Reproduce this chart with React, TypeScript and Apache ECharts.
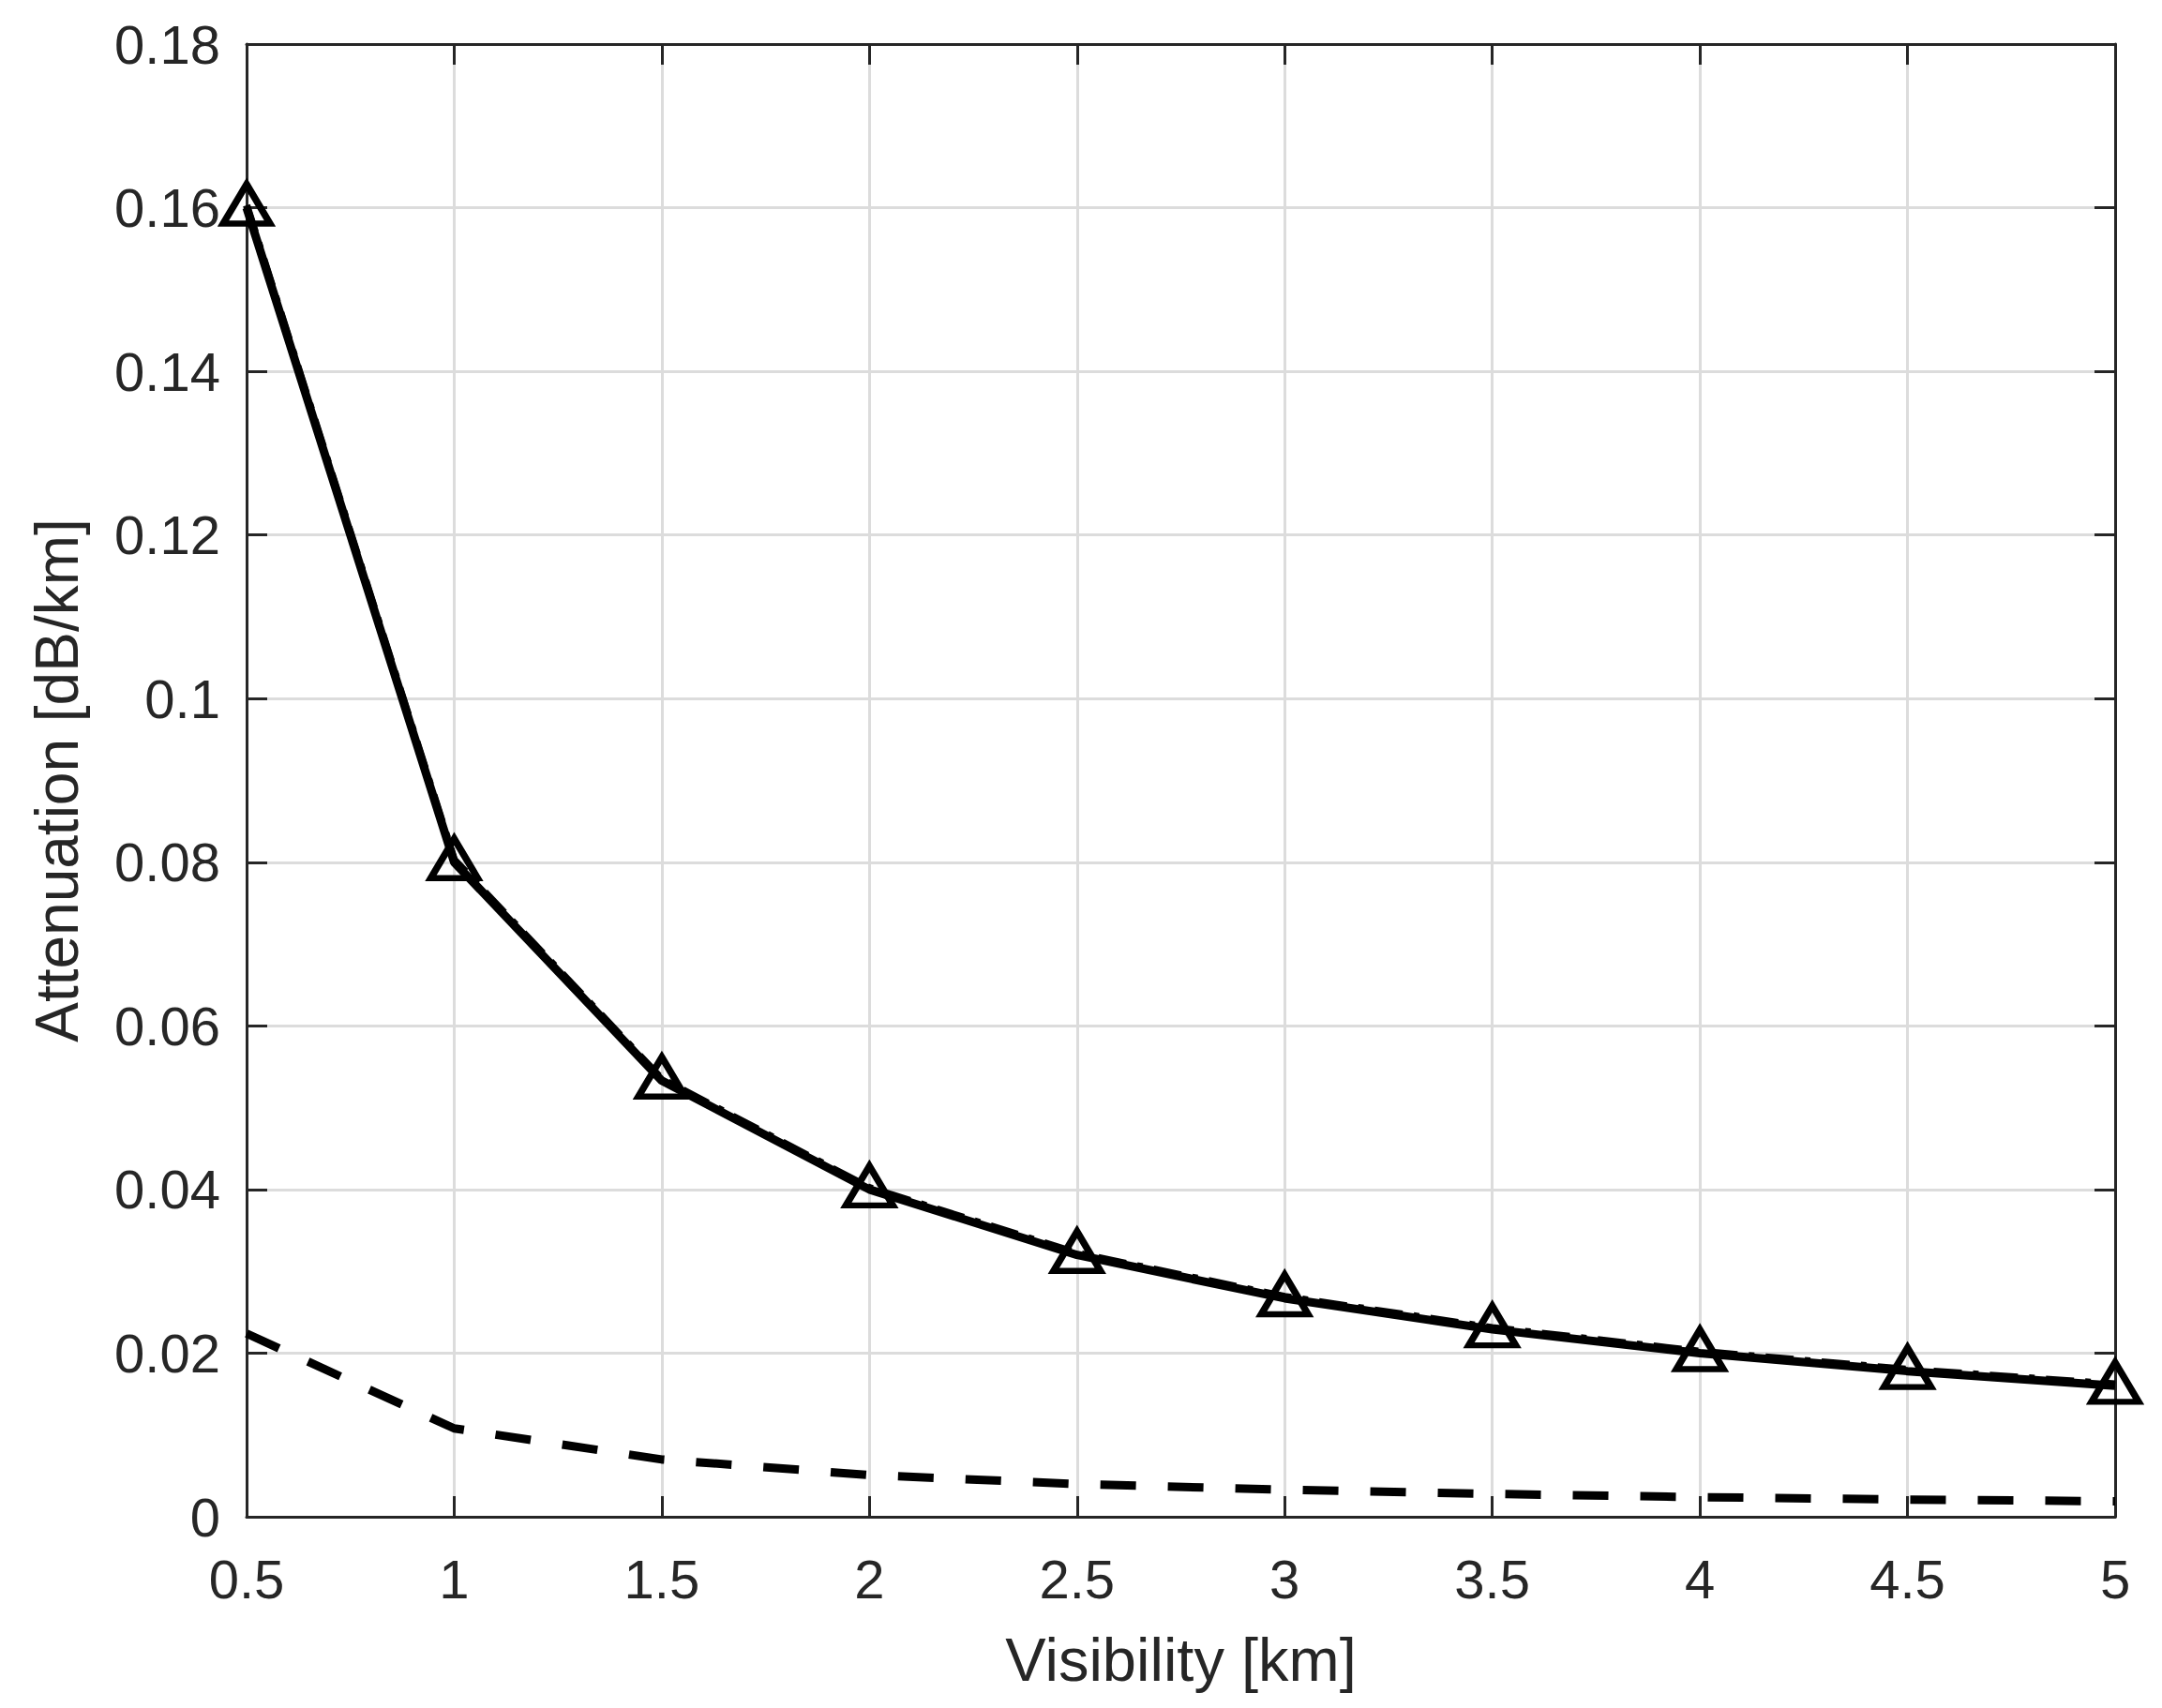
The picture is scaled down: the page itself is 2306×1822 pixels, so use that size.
import React, { useEffect, useRef } from "react";
import * as echarts from "echarts";

const visibility = [0.5, 1, 1.5, 2, 2.5, 3, 3.5, 4, 4.5, 5];
const totalAtt = [0.16, 0.08, 0.0533, 0.04, 0.032, 0.0267, 0.0229, 0.02, 0.0178, 0.016];
const modelAtt = [0.1603, 0.0803, 0.0535, 0.0402, 0.0322, 0.0269, 0.0231, 0.0202, 0.018, 0.0162];
const smallAtt = [0.0224, 0.0108, 0.007, 0.0051, 0.004, 0.0033, 0.0028, 0.0024, 0.0021, 0.0019];
const xTickLabels = ["0.5", "1", "1.5", "2", "2.5", "3", "3.5", "4", "4.5", "5"];
const yTickLabels = ["0", "0.02", "0.04", "0.06", "0.08", "0.1", "0.12", "0.14", "0.16", "0.18"];

const FONT = "'Liberation Sans', Arial, Helvetica, sans-serif";
const TXT = "#262626";

export default function App() {
  const ref = useRef<HTMLDivElement>(null);
  useEffect(() => {
    if (!ref.current) return;
    const chart = echarts.init(ref.current, undefined, { renderer: "svg" });
    const pts = (ys: number[]) => visibility.map((x, i) => [x, ys[i]]);
    const axisLine = { show: true, onZero: false, lineStyle: { color: TXT, width: 3 } };
    const tick = { show: true, inside: true, length: 22, lineStyle: { color: TXT, width: 3 } };
    chart.setOption({
      animation: false,
      backgroundColor: "#ffffff",
      grid: { left: 263, right: 50, top: 47, bottom: 204, containLabel: false },
      xAxis: [
        {
          type: "value",
          min: 0.5,
          max: 5,
          interval: 0.5,
          name: "Visibility [km]",
          nameLocation: "middle",
          nameGap: 120,
          nameTextStyle: { fontFamily: FONT, fontSize: 65, color: TXT },
          axisLine,
          axisTick: tick,
          axisLabel: {
            fontFamily: FONT,
            fontSize: 58,
            color: TXT,
            margin: 37,
            showMinLabel: true,
            showMaxLabel: true,
            formatter: (v: number) => xTickLabels[Math.round((v - 0.5) / 0.5)] ?? "",
          },
          splitLine: { show: true, lineStyle: { color: "#dcdcdc", width: 3 } },
        },
        {
          type: "value",
          position: "top",
          min: 0.5,
          max: 5,
          interval: 0.5,
          axisLine,
          axisTick: tick,
          axisLabel: { show: false },
          splitLine: { show: false },
        },
      ],
      yAxis: [
        {
          type: "value",
          min: 0,
          max: 0.18,
          interval: 0.02,
          name: "Attenuation [dB/km]",
          nameLocation: "middle",
          nameGap: 170,
          nameTextStyle: { fontFamily: FONT, fontSize: 64, color: TXT },
          axisLine,
          axisTick: tick,
          axisLabel: {
            fontFamily: FONT,
            fontSize: 58,
            color: TXT,
            margin: 28,
            showMinLabel: true,
            showMaxLabel: true,
            formatter: (v: number) => yTickLabels[Math.round(v / 0.02)] ?? "",
          },
          splitLine: { show: true, lineStyle: { color: "#dcdcdc", width: 3 } },
        },
        {
          type: "value",
          position: "right",
          min: 0,
          max: 0.18,
          interval: 0.02,
          axisLine,
          axisTick: tick,
          axisLabel: { show: false },
          splitLine: { show: false },
        },
      ],
      series: [
        {
          type: "line",
          data: pts(smallAtt),
          showSymbol: false,
          symbol: "none",
          clip: false,
          lineStyle: { color: "#000", width: 9, type: [38, 34], cap: "butt" },
        },
        {
          type: "line",
          data: pts(modelAtt),
          showSymbol: false,
          symbol: "none",
          clip: false,
          lineStyle: { color: "#000", width: 8, type: [30, 12, 6, 12], cap: "butt" },
        },
        {
          type: "line",
          data: pts(totalAtt),
          symbol: "triangle",
          symbolSize: [50, 42],
          symbolOffset: [0, -4],
          clip: false,
          lineStyle: { color: "#000", width: 9 },
          itemStyle: { color: "rgba(0,0,0,0)", borderColor: "#000", borderWidth: 7 },
          z: 3,
        },
      ],
    });
    return () => chart.dispose();
  }, []);
  return (
    <div
      ref={ref}
      style={{ position: "absolute", left: 0, top: 0, width: 2306, height: 1822 }}
    />
  );
}
